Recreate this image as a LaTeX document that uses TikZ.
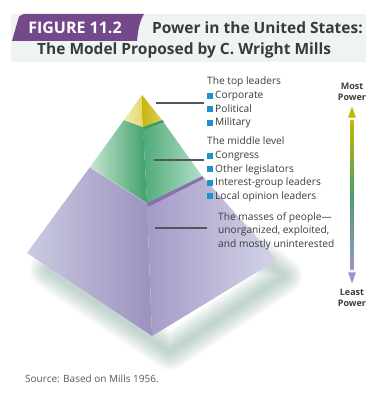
\documentclass[tikz,border=0pt]{standalone}
\usepackage{fontspec}
\setmainfont{Open Sans}
\usetikzlibrary{calc}
\definecolor{tabpurple}{HTML}{74498C}
\definecolor{titlebg}{HTML}{EEF4F4}
\definecolor{titletext}{HTML}{3A3A3A}
\definecolor{textgray}{HTML}{3C3C3C}
\definecolor{taggray}{HTML}{555560}
\definecolor{bullet}{HTML}{1E92CC}
\definecolor{shadowc}{HTML}{6F9A8C}
\definecolor{yl1}{HTML}{F2EDB5}\definecolor{yl2}{HTML}{E3D86A}
\definecolor{yr1}{HTML}{C6B60A}\definecolor{yr2}{HTML}{DCD060}
\definecolor{gl1}{HTML}{C6E7D2}\definecolor{gl2}{HTML}{3F9F69}
\definecolor{gr1}{HTML}{4FA978}\definecolor{gr2}{HTML}{B4E0C7}
\definecolor{pl1}{HTML}{CACBE2}\definecolor{pl2}{HTML}{9B92BE}
\definecolor{pr1}{HTML}{A49BC6}\definecolor{pr2}{HTML}{D3D4E8}
\definecolor{pband}{HTML}{8A6FAE}
\definecolor{gband}{HTML}{3C9A62}
\definecolor{most}{HTML}{C2B800}
\definecolor{midp}{HTML}{4A9E6E}
\definecolor{least}{HTML}{9C94C8}
\newcommand{\bsq}{\textcolor{bullet}{\rule{6pt}{6pt}}\hspace{2pt}}
\begin{document}
\begin{tikzpicture}[x=1pt,y=-1pt,
	lbl/.style={anchor=north west,inner sep=0pt,align=left,text=textgray,font=\fontsize{10.2}{13.6}\selectfont},
	tag/.style={draw=taggray,line width=1.1pt},
	power/.style={inner sep=0pt,align=center,text=textgray,font=\bfseries\fontsize{9}{10.5}\selectfont}]
	\useasboundingbox (0,0) rectangle (381,393);
	% title
	\fill[titlebg] (11,14) rectangle (366,62);
	\fill[tabpurple] (12,41) -- (18,20) .. controls (19,16) .. (24,14) -- (144,14) .. controls (139,22) and (138,32) .. (137,41) -- cycle;
	\node[inner sep=0pt,text=white,font=\bfseries\fontsize{16}{16}\selectfont] (fig) at (75,28) {FIGURE 11.2};
	\node[anchor=west,inner sep=0pt,text=titletext,font=\bfseries\fontsize{15.5}{16}\selectfont] (head1) at (152,28) {Power in the United States:};
	\node[anchor=west,inner sep=0pt,text=titletext,font=\bfseries\fontsize{15.5}{16}\selectfont] (head2) at (37,50) {The Model Proposed by C.~Wright Mills};
	% shadow
	\foreach \w in {36,32,...,4}
		\draw[shadowc,opacity=0.06,line width=\w pt,line join=round] (48,270) -- (170,352) -- (284,276) -- (200,210) -- (120,210) -- cycle;
	% pyramid points
	\coordinate (A) at (142,95);
	\coordinate (YL) at (124,120); \coordinate (YF) at (143,127); \coordinate (YR) at (162,120);
	\coordinate (GL) at (90,167); \coordinate (GF) at (147,203); \coordinate (GR) at (202,176);
	\coordinate (PL) at (27,253); \coordinate (PF) at (152,336); \coordinate (PR) at (277,260);
	% masses
	\shade[left color=pl1,right color=pl2] (GL) -- (GF) -- (PF) -- (PL) -- cycle;
	\shade[left color=pr1,right color=pr2] (GF) -- (GR) -- (PR) -- (PF) -- cycle;
	\fill[pband] (GF) -- (GR) -- (204,178.5) -- (148,207) -- cycle;
	\draw[white,opacity=0.5,line width=1pt] (GL) -- (GF);
	% middle level
	\shade[left color=gl1,right color=gl2] (YL) -- (YF) -- (GF) -- (GL) -- cycle;
	\shade[left color=gr1,right color=gr2] (YF) -- (YR) -- (GR) -- (GF) -- cycle;
	\fill[gband] (YF) -- (YR) -- (164,122) -- (143.5,129.5) -- cycle;
	% top leaders
	\shade[left color=yl1,right color=yl2] (A) -- (YF) -- (YL) -- cycle;
	\shade[left color=yr1,right color=yr2] (A) -- (YR) -- (YF) -- cycle;
	% labels
	\node[lbl] (toplbl) at (207,77) {The top leaders\\\bsq Corporate\\\bsq Political\\\bsq Military};
	\node[lbl] (midlbl) at (207,137) {The middle level\\\bsq Congress\\\bsq Other legislators\\\bsq Interest-group leaders\\\bsq Local opinion leaders};
	\node[lbl] (masslbl) at (218,212) {The masses of people---\\unorganized, exploited,\\and mostly uninterested};
	\coordinate (ytag) at (156,103);
	\coordinate (gtag) at (154,160);
	\coordinate (ptag) at (155,228);
	\draw[tag] (ytag) -- ($(ytag -| toplbl.west)+(-3,0)$);
	\draw[tag] (gtag) -- ($(gtag -| midlbl.west)+(-3,0)$);
	\draw[tag] (ptag) -- ($(ptag -| masslbl.west)+(-11,0)$);
	% power scale
	\node[power] (mostp) at (352,92) {Most\\Power};
	\node[power] (leastp) at (352,298) {Least\\Power};
	\shade[top color=most,bottom color=least,middle color=midp] ($(mostp.south)+(-1.6,20)$) rectangle ($(leastp.north)+(1.6,-20)$);
	\fill[most] ($(mostp.south)+(0,6)$) -- ++(4,11) -- ++(-8,0) -- cycle;
	\fill[least] ($(leastp.north)+(0,-6)$) -- ++(4,-11) -- ++(-8,0) -- cycle;
	% source
	\node[anchor=west,inner sep=0pt,text=textgray!85,font=\fontsize{10}{11}\selectfont] (src) at (25,379) {Source: Based on Mills 1956.};
\end{tikzpicture}
\end{document}
